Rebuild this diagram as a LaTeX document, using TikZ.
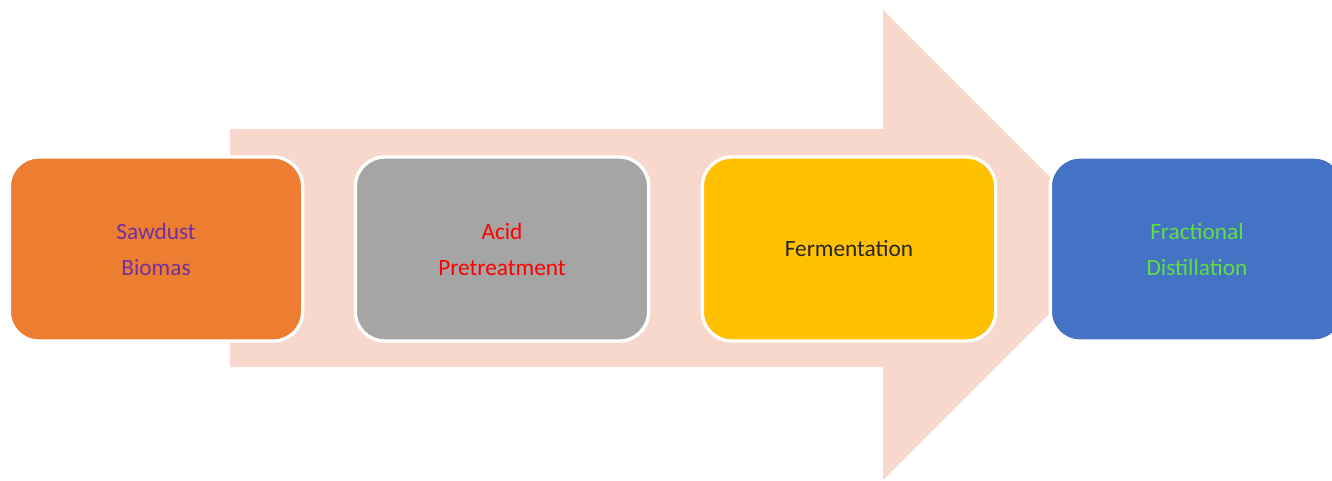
\documentclass[tikz,border=0pt]{standalone}
\usepackage{fontspec}
\setmainfont{Carlito}
\definecolor{boxorange}{HTML}{ED7D31}
\definecolor{boxgray}{HTML}{A5A5A5}
\definecolor{boxyellow}{HTML}{FFC000}
\definecolor{boxblue}{HTML}{4472C4}
\definecolor{arrowpink}{HTML}{F8D7CD}
\definecolor{txtpurple}{HTML}{7030A0}
\definecolor{txtred}{HTML}{FF0000}
\definecolor{txtdark}{HTML}{262626}
\definecolor{txtgreen}{HTML}{5EE040}
\begin{document}
\begin{tikzpicture}[
    x=0.75pt, y=-0.75pt,
    stepbox/.style={rectangle, rounded corners=22pt, draw=white, line width=2.5pt,
        minimum width=220pt, minimum height=138pt, align=center,
        font=\fontsize{17.5}{27}\selectfont}
]

    \clip (0,0) rectangle (1332,480);

    % big arrow behind the boxes
    \fill[arrowpink] (230,129) -- (883,129) -- (883,10) -- (1118,245)
        -- (883,480) -- (883,367) -- (230,367) -- cycle;

    \node[stepbox, fill=boxorange, text=txtpurple] (sawdust) at (156,249) {Sawdust\\Biomas};
    \node[stepbox, fill=boxgray, text=txtred] (acid) at (502,249) {Acid\\Pretreatment};
    \node[stepbox, fill=boxyellow, text=txtdark] (ferm) at (849,249) {Fermentation};
    \node[stepbox, fill=boxblue, text=txtgreen] (dist) at (1197,249) {Fractional\\Distillation};

\end{tikzpicture}
\end{document}
